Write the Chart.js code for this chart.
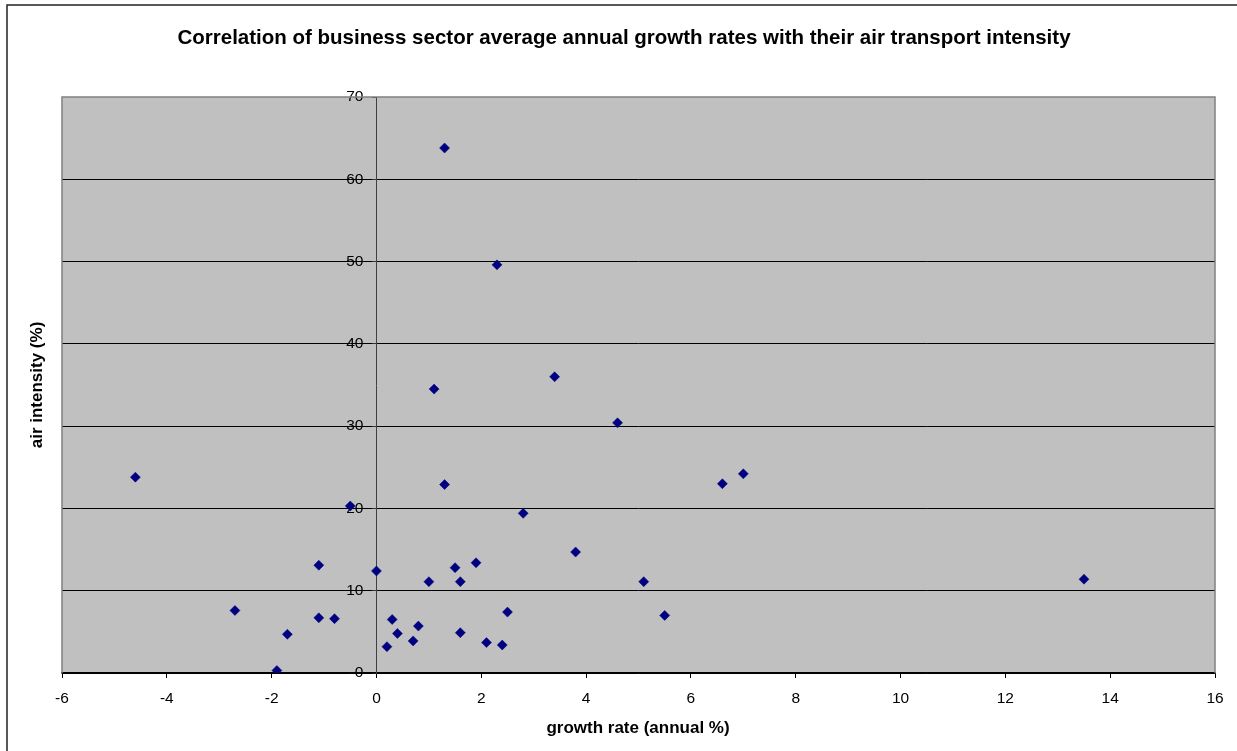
<!DOCTYPE html>
<html>
<head>
<meta charset="utf-8">
<script src="https://cdn.jsdelivr.net/npm/chart.js@4.4.1/dist/chart.umd.min.js"></script>
<style>
  html, body { margin: 0; padding: 0; background: #ffffff; }
  #wrap { position: relative; width: 1237px; height: 751px; }
  canvas { display: block; }
</style>
</head>
<body>
<div id="wrap"><canvas id="chart" width="1237" height="751"></canvas></div>
<script>
// Business sectors: average annual growth rate (%) and air transport intensity (%)
const growthRate = [
  -4.6, -2.7, -1.9, -1.7, -1.1, -1.1, -0.8, -0.5, 0.0, 0.2,
   0.3,  0.4,  0.7,  0.8,  1.0,  1.1,  1.3,  1.3, 1.5, 1.6,
   1.6,  1.9,  2.1,  2.3,  2.4,  2.5,  2.8,  3.4, 3.8, 4.6,
   5.1,  5.5,  6.6,  7.0, 13.5
];
const airIntensity = [
  23.8,  7.6,  0.3,  4.7, 13.1,  6.7,  6.6, 20.3, 12.4,  3.2,
   6.5,  4.8,  3.9,  5.7, 11.1, 34.5, 63.8, 22.9, 12.8, 11.1,
   4.9, 13.4,  3.7, 49.6,  3.4,  7.4, 19.4, 36.0, 14.7, 30.4,
  11.1,  7.0, 23.0, 24.2, 11.4
];
const xTickValues = [-6, -4, -2, 0, 2, 4, 6, 8, 10, 12, 14, 16];
const yTickValues = [0, 10, 20, 30, 40, 50, 60, 70];

const chartTitle = 'Correlation of business sector average annual growth rates with their air transport intensity';
const xTitle = 'growth rate (annual %)';
const yTitle = 'air intensity (%)';

const points = growthRate.map((g, i) => ({ x: g, y: airIntensity[i] }));

const FONT = '"Liberation Sans", Arial, Helvetica, sans-serif';
const Y_LABEL_GAP = 13; // distance from the crossing axis line to the value labels

// Grey plot background, frame, outer chart border and titles
const plotFrame = {
  id: 'plotFrame',
  beforeDraw(chart) {
    const { ctx, chartArea: a } = chart;
    // the y axis crosses at x = 0: keep its value labels clear of the tick marks
    const items = chart.scales.y.getLabelItems(a);
    if (!items._shifted) {
      items.forEach(it => { it.options.translation[0] -= Y_LABEL_GAP; });
      items._shifted = true;
    }
    ctx.save();
    ctx.fillStyle = '#ffffff';
    ctx.fillRect(0, 0, chart.width, chart.height);
    ctx.strokeStyle = '#222222';
    ctx.lineWidth = 1.5;
    ctx.beginPath();
    ctx.moveTo(7, chart.height + 2);
    ctx.lineTo(7, 5);
    ctx.lineTo(chart.width + 2, 5);
    ctx.stroke();
    ctx.fillStyle = '#c0c0c0';
    ctx.fillRect(a.left, a.top, a.right - a.left, a.bottom - a.top);
    ctx.restore();
  },
  beforeDatasetsDraw(chart) {
    const { ctx, chartArea: a } = chart;
    ctx.save();
    ctx.strokeStyle = '#808080';
    ctx.lineWidth = 1.5;
    ctx.beginPath();
    ctx.moveTo(a.left, a.bottom);
    ctx.lineTo(a.left, a.top);
    ctx.lineTo(a.right, a.top);
    ctx.lineTo(a.right, a.bottom);
    ctx.stroke();
    ctx.restore();
  },
  afterDraw(chart) {
    const { ctx } = chart;
    ctx.save();
    ctx.fillStyle = '#000000';
    ctx.textAlign = 'center';
    ctx.textBaseline = 'middle';
    ctx.font = 'bold 20.5px ' + FONT;
    ctx.fillText(chartTitle, 624, 38);
    ctx.font = 'bold 17px ' + FONT;
    ctx.fillText(xTitle, 638, 728);
    ctx.translate(37, 385);
    ctx.rotate(-Math.PI / 2);
    ctx.fillText(yTitle, 0, 0);
    ctx.restore();
  }
};

new Chart(document.getElementById('chart'), {
  type: 'scatter',
  data: {
    datasets: [{
      label: 'sectors',
      data: points,
      pointStyle: 'rectRot',
      pointRadius: 5,
      pointHoverRadius: 5,
      backgroundColor: '#000080',
      borderColor: '#000080',
      borderWidth: 0.5
    }]
  },
  options: {
    responsive: false,
    animation: false,
    events: [],
    layout: { padding: { left: 62, right: 22, top: 97, bottom: 48 } },
    plugins: {
      legend: { display: false },
      title: { display: false },
      tooltip: { enabled: false }
    },
    scales: {
      x: {
        type: 'linear',
        position: 'bottom',
        min: -6,
        max: 16,
        afterBuildTicks: (s) => { s.ticks = xTickValues.map(v => ({ value: v })); },
        afterFit: (s) => { s.height = 30; },
        grid: {
          display: true,
          drawOnChartArea: false,
          drawTicks: true,
          tickLength: 5,
          tickColor: '#000000',
          lineWidth: 1
        },
        border: { display: true, color: '#000000', width: 1.5 },
        ticks: {
          color: '#000000',
          font: { family: FONT, size: 15.5 },
          padding: 11,
          maxRotation: 0,
          autoSkip: false
        }
      },
      y: {
        type: 'linear',
        position: { x: 0 },
        min: 0,
        max: 70,
        afterBuildTicks: (s) => { s.ticks = yTickValues.map(v => ({ value: v })); },
        grid: {
          display: true,
          drawOnChartArea: true,
          drawTicks: true,
          tickLength: 4,
          color: (c) => (c.tick && c.tick.value === 70) ? 'rgba(0,0,0,0)' : '#000000',
          tickColor: '#333333',
          lineWidth: 1
        },
        border: { display: true, color: '#404040', width: 1 },
        ticks: {
          color: '#000000',
          font: { family: FONT, size: 15.5 },
          padding: 9,
          autoSkip: false
        }
      }
    }
  },
  plugins: [plotFrame]
});
</script>
</body>
</html>
